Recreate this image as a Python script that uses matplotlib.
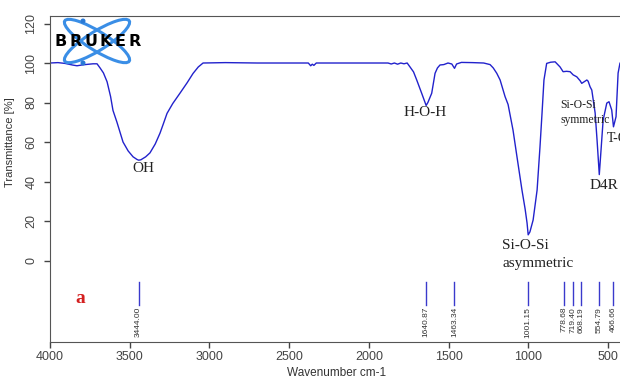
import matplotlib
matplotlib.use('Agg')
import matplotlib.pyplot as plt
from matplotlib.patches import Ellipse, Circle

# spectrum (wavenumber cm-1, transmittance %)
wavenumber = [4000, 3950, 3906, 3860, 3831, 3800, 3768, 3730, 3705, 3686,
              3665, 3642, 3620, 3605, 3580, 3561, 3542, 3510, 3479, 3455,
              3444, 3430, 3400, 3373, 3340, 3310, 3290, 3266, 3230, 3185,
              3140, 3103, 3070, 3040, 2900, 2700, 2500, 2380, 2365, 2355,
              2345, 2330, 2100, 1880, 1860, 1840, 1820, 1800, 1780, 1760,
              1742, 1720, 1700, 1669, 1650, 1641, 1630, 1606, 1585, 1570,
              1554, 1530, 1504, 1480, 1463, 1450, 1420, 1350, 1280, 1240,
              1220, 1198, 1177, 1146, 1127, 1096, 1071, 1040, 1020, 1008,
              1001, 990, 970, 945, 927, 914, 902, 885, 860, 832,
              801, 782, 760, 738, 719, 696, 675, 665, 650, 633,
              625, 613, 602, 581, 569, 555, 544, 531, 508, 494,
              477, 466, 450, 437, 425, 400]
transmittance = [100.0, 100.2, 99.8, 99.0, 98.6, 99.0, 99.3, 99.6, 99.6, 97.5,
                 95.0, 90.5, 83.0, 76.0, 70.0, 65.0, 60.0, 55.5, 52.5, 51.2,
                 50.8, 51.0, 52.5, 54.5, 59.0, 64.5, 69.0, 74.5, 79.5, 84.7,
                 90.0, 94.7, 98.0, 100.0, 100.2, 100.0, 100.0, 100.0, 98.6, 99.4,
                 98.8, 100.0, 100.0, 100.0, 99.5, 100.0, 99.4, 100.0, 99.6, 100.0,
                 98.0, 95.5, 91.4, 84.7, 80.5, 78.5, 80.0, 84.7, 94.8, 97.5,
                 99.0, 99.2, 100.0, 99.5, 97.3, 99.5, 100.3, 100.2, 100.0, 99.2,
                 97.5, 94.8, 91.4, 83.0, 79.0, 66.0, 52.4, 35.7, 26.0, 19.0,
                 13.0, 14.5, 20.5, 35.7, 57.4, 74.7, 91.4, 99.8, 100.4, 100.6,
                 98.0, 95.6, 95.8, 95.6, 94.0, 93.0, 91.0, 89.7, 90.5, 91.4,
                 90.8, 88.0, 86.3, 74.7, 61.0, 43.5, 56.0, 71.0, 79.7, 80.4,
                 76.2, 67.7, 72.8, 94.9, 100.0, 100.5]

peak_pos = [3444.00, 1640.87, 1463.34, 1001.15, 778.68, 719.40, 668.19, 554.79, 466.66]
peak_labels = ['3444.00', '1640.87', '1463.34', '1001.15', '778.68', '719.40',
               '668.19', '554.79', '466.66']

fig = plt.figure(figsize=(6.2, 3.78), dpi=100)
ax = fig.add_axes([50/620, 36.3/378, 574/620, 325.7/378])

ax.plot(wavenumber, transmittance, color='#2222cc', lw=1.0)

tfont = ['Liberation Sans Narrow', 'Liberation Sans', 'DejaVu Sans']

# peak pick markers + labels
for p, lab in zip(peak_pos, peak_labels):
    ax.plot([p, p], [-10.9, -22.5], color='#3a3acc', lw=1.0)
    ax.text(p, -23.5, lab, rotation=90, ha='center', va='top', fontsize=6,
            color='#333333', family=tfont)

ax.set_xlim(4000, 400)
ax.set_ylim(-41.1, 123.8)
ax.set_xticks([4000, 3500, 3000, 2500, 2000, 1500, 1000, 500])
ax.set_yticks([0, 20, 40, 60, 80, 100, 120])

for lab in ax.get_xticklabels():
    lab.set_family(tfont)
for lab in ax.get_yticklabels():
    lab.set_family(tfont)
    lab.set_rotation(90)
    lab.set_va('center')
ax.tick_params(axis='both', labelsize=9, colors='#444444', length=4, width=1)
ax.tick_params(axis='x', pad=3)
ax.tick_params(axis='y', pad=5)
for s in ['left', 'bottom', 'top']:
    ax.spines[s].set_color('#555555')
ax.spines['right'].set_visible(False)

ax.set_xlabel('Wavenumber cm-1', fontsize=8.5, family=tfont, color='#333333')
ax.xaxis.set_label_coords(0.5, -0.078)
ax.set_ylabel('Transmittance [%]', fontsize=8, family=tfont, color='#333333')
ax.yaxis.set_label_coords(-0.061, 0.613)

serif = ['Liberation Serif', 'DejaVu Serif']
ax.text(3417, 46.8, 'OH', fontsize=11, family=serif, ha='center', va='center', color='#222222')
ax.text(1648, 74.7, 'H-O-H', fontsize=11, family=serif, ha='center', va='center', color='#222222')
ax.text(1165, 7.8, 'Si-O-Si', fontsize=11, family=serif, ha='left', va='center', color='#222222')
ax.text(1165, -1.3, 'asymmetric', fontsize=11, family=serif, ha='left', va='center', color='#222222')
ax.text(801, 78.7, 'Si-O-Si', fontsize=8.5, family=serif, ha='left', va='center', color='#222222')
ax.text(801, 71.1, 'symmetric', fontsize=8.5, family=serif, ha='left', va='center', color='#222222')
ax.text(617, 38.2, 'D4R', fontsize=11, family=serif, ha='left', va='center', color='#222222')
ax.text(506, 62, 'T-O', fontsize=10, family=serif, ha='left', va='center', color='#222222')
ax.text(3812, -19, 'a', fontsize=14, family=serif, fontweight='bold', ha='center',
        va='center', color='#d42020')

# BRUKER logo
lg = fig.add_axes([55/620, (378-70)/378, 85/620, 56/378])
lg.set_xlim(0, 85)
lg.set_ylim(0, 56)
lg.axis('off')
lg.patch.set_alpha(0)
for ang in (32, -32):
    lg.add_patch(Ellipse((42, 29), 76, 19, angle=ang, fill=False, ec='#3a8ee6', lw=2.2))
lg.add_patch(Circle((28, 49), 1.8, color='#2a7ad6'))
lg.add_patch(Circle((28, 7), 1.8, color='#2a7ad6'))
for i, ch in enumerate('BRUKER'):
    lg.text(6 + i*14.8, 28, ch, fontsize=11.5, fontweight='heavy', ha='center', va='center',
            family=['DejaVu Sans'], color='black')

fig.savefig('out.png', dpi=100)
